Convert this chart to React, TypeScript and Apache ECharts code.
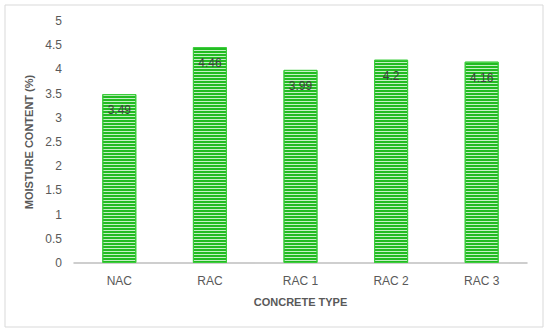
import React, { useEffect, useRef } from "react";
import * as echarts from "echarts";

const categories = ["NAC", "RAC", "RAC 1", "RAC 2", "RAC 3"];
const moisture = [3.49, 4.46, 3.99, 4.2, 4.16];
const labels = ["3.49", "4.46", "3.99", "4.2", "4.16"];

export default function App() {
  const ref = useRef<HTMLDivElement>(null);
  useEffect(() => {
    const chart = echarts.init(ref.current!, null, { renderer: "svg" });
    chart.setOption({
      animation: false,
      backgroundColor: "#ffffff",
      graphic: [
        {
          type: "rect",
          shape: { x: 5, y: 5, width: 538, height: 322 },
          style: { fill: "none", stroke: "#d9d9d9", lineWidth: 1 },
          silent: true,
        },
      ],
      grid: { left: 74, right: 23, top: 21, bottom: 72 },
      xAxis: {
        type: "category",
        data: categories,
        name: "CONCRETE TYPE",
        nameLocation: "middle",
        nameGap: 33,
        nameTextStyle: { fontFamily: "Liberation Sans", fontWeight: "bold", fontSize: 11, color: "#595959" },
        axisLine: { lineStyle: { color: "#bfbfbf", width: 1.5 } },
        axisTick: { show: false },
        axisLabel: { fontFamily: "Liberation Sans", fontSize: 12, color: "#595959", margin: 12 },
      },
      yAxis: {
        type: "value",
        min: 0,
        max: 5,
        interval: 0.5,
        name: "MOISTURE CONTENT (%)",
        nameLocation: "middle",
        nameGap: 37,
        nameTextStyle: { fontFamily: "Liberation Sans", fontWeight: "bold", fontSize: 11, color: "#595959" },
        axisLine: { show: false },
        axisTick: { show: false },
        splitLine: { show: false },
        axisLabel: { fontFamily: "Liberation Sans", fontSize: 12, color: "#595959", margin: 12 },
      },
      series: [
        {
          type: "bar",
          data: moisture,
          barWidth: 34,
          itemStyle: {
            color: "#c4f0c4",
            borderColor: "#3ccc3c",
            borderWidth: 1,
            decal: {
              symbol: "rect",
              symbolSize: 1,
              dashArrayX: [1, 0],
              dashArrayY: [2, 1],
              rotation: 0,
              color: "#22bb22",
            },
          },
          label: {
            show: true,
            position: "insideTop",
            distance: 10,
            formatter: (p: any) => labels[p.dataIndex],
            fontFamily: "Liberation Sans",
            fontSize: 12,
            color: "#404040",
          },
        },
      ],
    });
    return () => chart.dispose();
  }, []);
  return (
    <div
      ref={ref}
      style={{ position: "fixed", left: 0, top: 0, width: 550, height: 335 }}
    />
  );
}
